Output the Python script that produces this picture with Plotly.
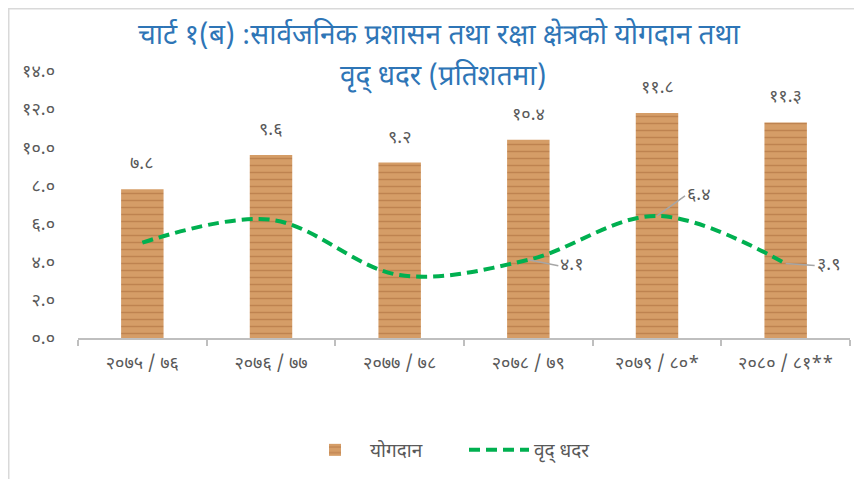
import plotly.graph_objects as go

categories = ["२०७५ / ७६", "२०७६ / ७७", "२०७७ / ७८", "२०७८ / ७९", "२०७९ / ८०*", "२०८० / ८१**"]
contribution = [7.8, 9.6, 9.2, 10.4, 11.8, 11.3]
growth = [5.0, 6.2, 3.3, 4.1, 6.4, 3.9]
growth_labelled = [False, False, False, True, True, True]
y_tickvals = [0, 2, 4, 6, 8, 10, 12, 14]
y_ticktext = ["०.०", "२.०", "४.०", "६.०", "८.०", "१०.०", "१२.०", "१४.०"]
title_lines = ["चार्ट १(ब) :सार्वजनिक प्रशासन तथा रक्षा क्षेत्रको योगदान तथा", "वृद् धदर (प्रतिशतमा)"]

DEV = str.maketrans("0123456789", "०१२३४५६७८९")

def dev(v):
    return f"{v:.1f}".translate(DEV)

FONT = "Noto Sans Devanagari, Noto Sans, sans-serif"
GRAY = "#595959"

W, H = 862, 479
ML, MR, MT, MB = 70, 20, 63, 149
PW, PH = W - ML - MR, H - MT - MB

def px_x(x):
    return (x - ML) / PW

def px_y(y):
    return (H - MB - y) / PH

fig = go.Figure()
fig.add_trace(go.Bar(
    x=categories, y=contribution, name="योगदान",
    marker=dict(color="#d39a64", line=dict(width=0),
                pattern=dict(shape="-", fgcolor="#a86a3a", bgcolor="#d59d67",
                             size=7, solidity=0.22, fillmode="overlay")),
))
fig.add_trace(go.Scatter(
    x=categories, y=growth, name="वृद् धदर", mode="lines",
    line=dict(color="#00b050", width=4, dash="11px,6px", shape="spline", smoothing=1),
))

for c, v in zip(categories, contribution):
    fig.add_annotation(x=c, y=v, text=dev(v), showarrow=False, yanchor="bottom",
                       yshift=11, font=dict(color=GRAY, size=18, family=FONT))

offsets = {3: (30, 6), 4: (28, -20), 5: (29, 2)}
for i, (c, v, show) in enumerate(zip(categories, growth, growth_labelled)):
    if not show:
        continue
    ax, ay = offsets[i]
    fig.add_annotation(x=c, y=v, text=dev(v), showarrow=True, arrowhead=0,
                       arrowcolor="#a6a6a6", arrowwidth=1.5, ax=ax, ay=ay,
                       xanchor="left", font=dict(color=GRAY, size=18, family=FONT))

fig.add_annotation(xref="paper", yref="paper", x=px_x(431), y=px_y(29), showarrow=False,
                   text=title_lines[0], font=dict(color="#2e75b6", size=28, family=FONT),
                   xanchor="center", yanchor="middle")
fig.add_annotation(xref="paper", yref="paper", x=px_x(435), y=px_y(69), showarrow=False,
                   text=title_lines[1], font=dict(color="#2e75b6", size=28, family=FONT),
                   xanchor="center", yanchor="middle")

fig.add_shape(type="rect", xref="paper", yref="paper", x0=px_x(0), y0=px_y(H + 20),
              x1=px_x(W + 20), y1=px_y(0), line=dict(color="#d9d9d9", width=3), layer="below")

fig.update_layout(
    width=W, height=H,
    margin=dict(l=ML, r=MR, t=MT, b=MB),
    paper_bgcolor="white", plot_bgcolor="white",
    bargap=0.67,
    font=dict(family=FONT, color=GRAY, size=14),
    showlegend=True,
    legend=dict(orientation="h", x=px_x(456), xanchor="center", y=px_y(442), yanchor="middle",
                itemwidth=60, entrywidth=89, font=dict(size=19, color=GRAY, family=FONT)),
    xaxis=dict(showline=True, linecolor="#bfbfbf", linewidth=1.5, ticks="outside",
               tickson="boundaries", ticklen=6, tickcolor="#bfbfbf", tickwidth=1.5,
               showgrid=False, ticklabelstandoff=8,
               tickfont=dict(size=18, color=GRAY, family=FONT)),
    yaxis=dict(range=[0, 14], tickvals=y_tickvals, ticktext=y_ticktext, showgrid=False,
               zeroline=False, showline=False, ticks="", ticklabelstandoff=22,
               tickfont=dict(size=18, color=GRAY, family=FONT)),
)

fig.write_html("out.html")
